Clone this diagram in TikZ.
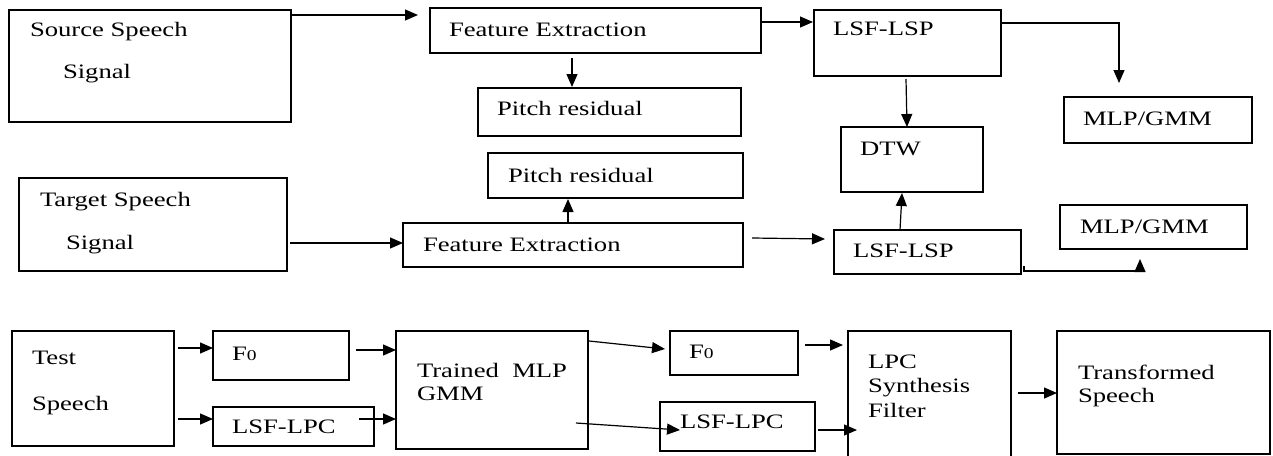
\documentclass[tikz,border=0pt]{standalone}
\usepackage{fontspec}
\setmainfont{Liberation Serif}[FakeStretch=1.3]
\usetikzlibrary{arrows.meta,calc}
\tikzset{
  box/.style={draw=black,line width=1.2pt,rectangle,inner sep=0pt,outer sep=0pt,anchor=north west},
  txt/.style={inner sep=0pt,outer sep=0pt,anchor=base west,font=\fontsize{20.5}{24}\selectfont,align=left},
  arr/.style={line width=1.2pt,-{Triangle[length=13pt,width=11pt]}}
}
\newcommand{\bx}[5]{\node[box,minimum width=#4pt-#2pt,minimum height=#5pt-#3pt] (#1) at (#2,#3) {};}
\newcommand{\zsub}{{\fontsize{15}{15}\selectfont 0}}
\begin{document}
\begin{tikzpicture}[x=1pt,y=-1pt]
\useasboundingbox (0,0) rectangle (1273,455);
% boxes
\bx{src}{9}{10}{291}{122}
\bx{fe1}{430}{8}{761}{53}
\bx{pr1}{478}{88}{741}{136}
\bx{lsf1}{814}{10}{1001}{76}
\bx{mlp1}{1064}{97}{1252}{143}
\bx{dtw}{841}{127}{983}{192}
\bx{tgt}{19}{178}{287}{271}
\bx{pr2}{488}{153}{743}{198}
\bx{fe2}{403}{223}{743}{267}
\bx{lsf2}{834}{230}{1021}{274}
\bx{mlp2}{1060}{205}{1247}{249}
\bx{test}{12}{331}{174}{446}
\bx{f0a}{213}{331}{349}{380}
\bx{lpca}{213}{407}{374}{446}
\bx{trn}{396}{331}{588}{449}
\bx{f0b}{670}{331}{798}{375}
\bx{lpcb}{660}{402}{815}{451}
\bx{lpc}{848}{331}{1011}{460}
\bx{trf}{1057}{331}{1270}{454}
% texts
\node[txt] (t1) at (30,36) {Source Speech};
\node[txt] (t2) at (63,78) {Signal};
\node[txt] (t3) at (449,36) {Feature Extraction};
\node[txt] (t4) at (497,115) {Pitch residual};
\node[txt] (t5) at (833,35) {LSF-LSP};
\node[txt] (t6) at (1083,125) {MLP/GMM};
\node[txt] (t7) at (860,155) {DTW};
\node[txt] (t8) at (40,206) {Target Speech};
\node[txt] (t9) at (66,249) {Signal};
\node[txt] (t10) at (508,182) {Pitch residual};
\node[txt] (t11) at (423,251) {Feature Extraction};
\node[txt] (t12) at (853,257) {LSF-LSP};
\node[txt] (t13) at (1080,233) {MLP/GMM};
\node[txt] (t14) at (32,364) {Test};
\node[txt] (t15) at (32,410) {Speech};
\node[txt] (t16) at (232,360) {F\zsub};
\node[txt] (t17) at (232,433) {LSF-LPC};
\node[txt,font=\fontsize{20.5}{23}\selectfont] (t18) at (417,400) {Trained\ \ MLP\\GMM};
\node[txt] (t19) at (689,358) {F\zsub};
\node[txt] (t20) at (680,428) {LSF-LPC};
\node[txt,font=\fontsize{20.5}{24.5}\selectfont] (t21) at (868,417) {LPC\\Synthesis\\Filter};
\node[txt,font=\fontsize{20.5}{23}\selectfont] (t22) at (1078,402) {Transformed\\Speech};
% connectors
\draw[arr] ($(src.north east)+(0,5)$) -- ($(fe1.north west)+(-12,7)$);
\draw[arr] ($(fe1.north east)+(0,14)$) -- ($(lsf1.north west)+(-1,12)$);
\draw[arr] ($(fe1.south west)+(142,5)$) -- ($(pr1.north west)+(94,-1)$);
\draw[arr] ($(lsf1.north east)+(0,13)$) -| ($(mlp1.north west)+(55,-14)$);
\draw[arr] ($(lsf1.south west)+(92,3)$) -- ($(dtw.north west)+(66,0)$);
\draw[arr] ($(tgt.north east)+(3,65)$) -- ($(fe2.north west)+(0,20)$);
\draw[arr] ($(fe2.north west)+(165,0)$) -- ($(pr2.south west)+(80,1)$);
\draw[arr] ($(fe2.north east)+(9,15)$) -- ($(lsf2.north west)+(-9,9)$);
\draw[arr] ($(lsf2.north west)+(66,0)$) -- ($(dtw.south west)+(61,1)$);
\draw[arr] ($(lsf2.south east)+(3,-8)$) -- ++(0,5) -| ($(mlp2.south west)+(80,10)$);
\draw[arr] ($(test.north east)+(4,17)$) -- ($(f0a.north west)+(0,17)$);
\draw[arr] ($(test.north east)+(4,88)$) -- ($(lpca.north west)+(0,12)$);
\draw[arr] ($(f0a.north east)+(7,19)$) -- ($(trn.north west)+(0,19)$);
\draw[arr] ($(lpca.north east)+(-15,12)$) -- ($(trn.north west)+(0,88)$);
\draw[arr] ($(trn.north east)+(1,10)$) -- ($(f0b.north west)+(-5,18)$);
\draw[arr] ($(trn.north east)+(-12,92)$) -- ($(lpcb.north west)+(20,28)$);
\draw[arr] ($(f0b.north east)+(7,14)$) -- ($(lpc.north west)+(-5,14)$);
\draw[arr] ($(lpcb.north east)+(3,28)$) -- ($(lpc.north west)+(9,99)$);
\draw[arr] ($(lpc.north east)+(7,62)$) -- ($(trf.north west)+(0,62)$);
\end{tikzpicture}
\end{document}
